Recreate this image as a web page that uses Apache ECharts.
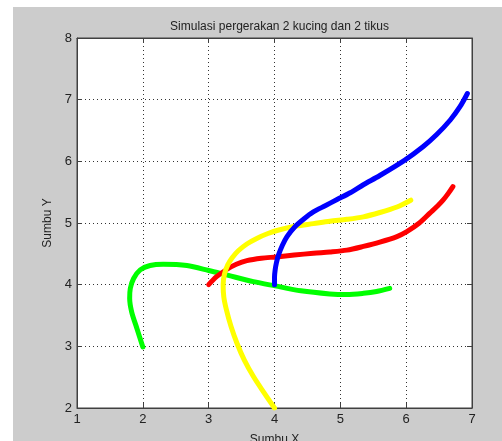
<!DOCTYPE html>
<html>
<head>
<meta charset="utf-8">
<script src="https://cdn.jsdelivr.net/npm/echarts@6/dist/echarts.min.js"></script>
<style>
html,body{margin:0;padding:0;background:#fff;}
#c{width:502px;height:441px;}
</style>
</head>
<body>
<div id="c"></div>
<script>
var titleText = 'Simulasi pergerakan 2 kucing dan 2 tikus';
var xName = 'Sumbu X';
var yName = 'Sumbu Y';
var xTicks = [1, 2, 3, 4, 5, 6, 7];
var yTicks = [2, 3, 4, 5, 6, 7, 8];

var greenPath = [[2.0,2.99],[1.91,3.29],[1.83,3.56],[1.8,3.78],[1.81,3.94],[1.86,4.1],[1.96,4.24],[2.11,4.31],[2.31,4.33],[2.67,4.31],[3.0,4.23],[3.3,4.15],[3.68,4.05],[4.01,3.98],[4.4,3.9],[4.84,3.85],[5.1,3.84],[5.35,3.86],[5.55,3.89],[5.75,3.94]];
var redPath = [[3.0,4.0],[3.12,4.13],[3.28,4.25],[3.42,4.33],[3.58,4.39],[3.8,4.43],[4.03,4.45],[4.3,4.48],[4.59,4.51],[4.84,4.53],[5.1,4.56],[5.35,4.62],[5.6,4.69],[5.86,4.78],[6.01,4.86],[6.2,5.0],[6.36,5.16],[6.48,5.28],[6.56,5.37],[6.64,5.48],[6.71,5.59]];
var yellowPath = [[4.0,2.0],[3.84,2.25],[3.68,2.51],[3.54,2.78],[3.43,3.05],[3.34,3.32],[3.27,3.59],[3.23,3.8],[3.22,4.0],[3.24,4.17],[3.29,4.32],[3.36,4.44],[3.45,4.55],[3.58,4.66],[3.73,4.75],[3.9,4.83],[4.08,4.89],[4.33,4.95],[4.59,4.99],[4.84,5.03],[5.1,5.06],[5.35,5.1],[5.6,5.17],[5.86,5.26],[6.07,5.37]];
var bluePath = [[4.0,4.0],[4.0,4.12],[4.01,4.24],[4.03,4.36],[4.06,4.48],[4.12,4.64],[4.19,4.78],[4.31,4.94],[4.45,5.07],[4.59,5.18],[4.77,5.28],[4.95,5.38],[5.15,5.49],[5.35,5.62],[5.6,5.77],[5.98,6.02],[6.26,6.24],[6.46,6.43],[6.67,6.67],[6.82,6.89],[6.93,7.1]];

var paths = [
  {d: greenPath, c: '#00ff00'},
  {d: redPath, c: '#ff0000'},
  {d: yellowPath, c: '#ffff00'},
  {d: bluePath, c: '#0000ff'}
];

var font = 'Liberation Sans, Arial, sans-serif';
var axisCol = '#404040';

function xAx(pos, show) {
  return {
    type: 'value', position: pos, min: xTicks[0], max: xTicks[xTicks.length-1], interval: 1,
    name: show ? xName : '', nameLocation: 'middle', nameGap: 26,
    nameTextStyle: {color: '#222', fontFamily: font, fontSize: 12},
    axisLine: {show: true, onZero: false, lineStyle: {color: axisCol, width: 1}},
    axisTick: {show: true, inside: true, length: 5, lineStyle: {color: axisCol}},
    axisLabel: {show: show, color: '#222', fontFamily: font, fontSize: 13, margin: 5},
    splitLine: {show: show, lineStyle: {color: '#333', type: [1, 3], width: 1}}
  };
}
function yAx(pos, show) {
  return {
    type: 'value', position: pos, min: yTicks[0], max: yTicks[yTicks.length-1], interval: 1,
    name: show ? yName : '', nameLocation: 'middle', nameGap: 18, nameRotate: 90,
    nameTextStyle: {color: '#222', fontFamily: font, fontSize: 12},
    axisLine: {show: true, onZero: false, lineStyle: {color: axisCol, width: 1}},
    axisTick: {show: true, inside: true, length: 5, lineStyle: {color: axisCol}},
    axisLabel: {show: show, color: '#222', fontFamily: font, fontSize: 13, margin: 5},
    splitLine: {show: show, lineStyle: {color: '#333', type: [1, 3], width: 1}}
  };
}

var chart = echarts.init(document.getElementById('c'), null, {renderer: 'canvas'});
chart.setOption({
  animation: false,
  backgroundColor: 'transparent',
  graphic: [{type: 'rect', z: -100, silent: true, shape: {x: 13, y: 7, width: 489, height: 434}, style: {fill: '#cccccc'}}],
  title: {text: titleText, left: 274.5, top: 16, textAlign: 'center',
    textStyle: {color: '#222', fontFamily: font, fontSize: 12, fontWeight: 'normal'}},
  grid: {left: 77, top: 38, right: 30, bottom: 33, show: true, backgroundColor: '#ffffff', borderColor: axisCol, borderWidth: 1,
    containLabel: false, outerBoundsMode: 'none'},
  xAxis: [xAx('bottom', true), xAx('top', false)],
  yAxis: [yAx('left', true), yAx('right', false)],
  series: paths.map(function (p) {
    return {type: 'line', data: p.d, smooth: 0.3, showSymbol: false, symbol: 'none',
      lineStyle: {color: p.c, width: 5, cap: 'round', join: 'round'}, z: 3};
  })
});
</script>
</body>
</html>
